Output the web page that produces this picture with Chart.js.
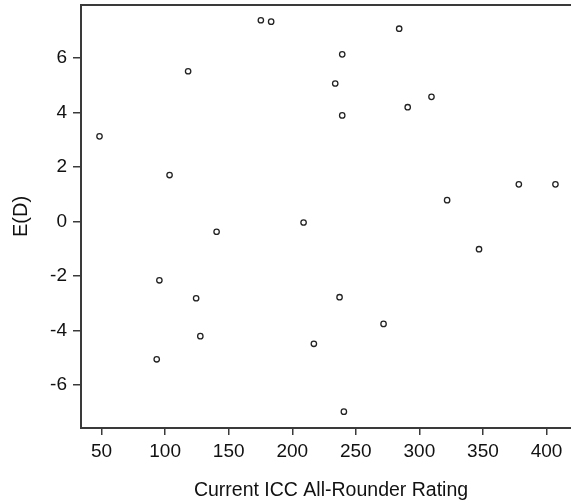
<!DOCTYPE html>
<html>
<head>
<meta charset="utf-8">
<script src="https://cdn.jsdelivr.net/npm/chart.js@4/dist/chart.umd.min.js"></script>
<style>
html,body{margin:0;padding:0;background:#fff;overflow:hidden;width:571px;height:503px;}
canvas{display:block;}
</style>
</head>
<body>
<canvas id="c" width="585" height="503"></canvas>
<script>
const ratingX = [48.4, 118.1, 103.5, 93.4, 127.7, 175.3, 183.4, 239.3, 233.8, 239.3, 284.1, 309.5, 290.8, 378.2, 407.0, 321.8, 140.5, 208.9, 95.5, 124.4, 217.0, 346.9, 237.2, 271.8, 240.6];
const edY =     [3.13, 5.52, 1.71, -5.05, -4.20, 7.39, 7.34, 6.14, 5.07, 3.90, 7.08, 4.58, 4.20, 1.37, 1.37, 0.79, -0.37, -0.03, -2.15, -2.81, -4.48, -1.01, -2.77, -3.75, -6.97];
const xTicks = [50, 100, 150, 200, 250, 300, 350, 400];
const yTicks = [-6, -4, -2, 0, 2, 4, 6];
const xTitle = 'Current ICC All-Rounder Rating';
const yTitle = 'E(D)';

const axisColor = '#3a3a3a';
const textColor = '#111';
const fontFam = "'Liberation Sans', Arial, sans-serif";

const topBorder = {
  id: 'topBorder',
  afterDraw(chart) {
    const {ctx, chartArea} = chart;
    ctx.save();
    ctx.strokeStyle = axisColor;
    ctx.lineWidth = 2;
    ctx.beginPath();
    ctx.moveTo(chartArea.left - 1, chartArea.top);
    ctx.lineTo(chartArea.right + 5, chartArea.top);
    ctx.stroke();
    ctx.restore();
  }
};

new Chart(document.getElementById('c'), {
  type: 'scatter',
  data: {
    datasets: [{
      data: ratingX.map((x, i) => ({x: x, y: edY[i]})),
      pointStyle: 'circle',
      pointRadius: 2.7,
      pointHoverRadius: 2.7,
      pointBorderWidth: 1.3,
      pointBorderColor: '#222',
      pointBackgroundColor: '#fff'
    }]
  },
  options: {
    responsive: false,
    animation: false,
    events: [],
    layout: {padding: {top: 5, right: 0, left: 0, bottom: 0}},
    plugins: {legend: {display: false}, tooltip: {enabled: false}},
    scales: {
      x: {
        type: 'linear',
        min: 33.85,
        max: 427.1,
        afterBuildTicks: s => { s.ticks = xTicks.map(v => ({value: v})); },
        afterFit: s => { s.height = 75; s.paddingLeft = 0; s.paddingRight = 0; },
        border: {display: true, color: axisColor, width: 2},
        grid: {display: true, drawOnChartArea: false, drawTicks: true, tickLength: 7, color: axisColor, lineWidth: 1.5},
        ticks: {color: textColor, font: {family: fontFam, size: 19}, padding: 5, maxRotation: 0},
        title: {display: true, text: xTitle, color: textColor, font: {family: fontFam, size: 19.5}, padding: {top: 0, bottom: 1}}
      },
      y: {
        type: 'linear',
        min: -7.57,
        max: 7.95,
        afterBuildTicks: s => { s.ticks = yTicks.map(v => ({value: v})); },
        afterFit: s => { s.width = 81; s.paddingTop = 0; s.paddingBottom = 0; },
        border: {display: true, color: axisColor, width: 2},
        grid: {display: true, drawOnChartArea: false, drawTicks: true, tickLength: 8, color: axisColor, lineWidth: 1.5},
        ticks: {color: textColor, font: {family: fontFam, size: 19}, padding: 6},
        title: {display: true, text: yTitle, color: textColor, font: {family: fontFam, size: 20}, padding: {top: 9, bottom: 0}}
      }
    }
  },
  plugins: [topBorder]
});
</script>
</body>
</html>
